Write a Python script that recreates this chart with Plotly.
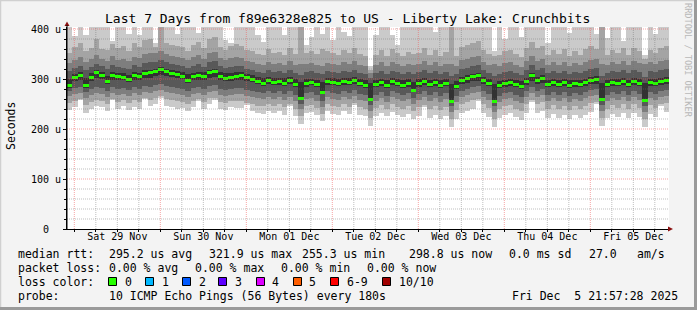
import plotly.graph_objects as go
from datetime import datetime, timedelta

# ---------------- data ----------------
END = datetime(2025, 12, 5, 21, 57, 28)
START = END - timedelta(days=7)
STEP_HOURS = 1.5

MEDIAN = [288,304,308,288,304,314,308,296,308,306,304,300,308,306,312,314,
          316,320,316,312,310,306,298,306,308,306,314,316,306,302,304,306,
          308,304,300,296,292,298,294,296,292,298,290,262,292,294,290,274,
          296,294,292,296,294,298,292,288,260,290,294,288,296,292,288,292,
          278,292,296,290,294,288,292,256,286,298,302,306,308,298,292,256,
          288,292,294,290,286,296,308,298,302,290,294,290,294,288,292,290,
          294,298,300,260,290,294,292,296,290,296,292,258,294,292,296,298]
# distance of ping 5 below / ping 6 above the median
D5 = [6,8,10,6,8,12,8,6,10,8,6,6,10,8,10,12,
      10,12,10,8,8,6,6,8,10,8,12,12,8,6,8,8,
      10,8,6,6,6,8,6,8,6,8,6,2,8,6,6,2,
      8,6,6,8,6,8,6,6,2,6,8,6,8,6,6,8,
      2,8,8,6,8,6,6,2,6,8,10,10,12,8,6,2,
      6,8,8,6,6,8,12,8,10,6,8,6,8,6,8,6,
      8,8,10,2,6,8,6,8,6,8,6,2,8,6,8,8]
D6 = [12,6,6,14,8,4,6,10,6,6,8,8,6,6,6,4,
      4,4,4,6,6,8,12,6,6,8,4,4,8,10,8,8,
      6,6,8,8,10,6,8,6,10,6,10,32,8,6,8,20,
      6,8,8,6,8,6,8,10,32,8,6,10,6,8,10,8,
      16,8,6,8,6,10,8,34,10,6,6,4,4,6,8,34,
      8,6,6,8,10,6,4,6,6,8,6,8,6,10,6,8,
      6,6,6,32,8,6,8,6,8,6,8,34,6,8,6,6]
P1 = [238,244,258,232,240,246,244,236,258,240,246,238,244,240,260,246,
      250,262,246,244,240,242,236,244,256,240,250,258,240,238,244,242,
      242,248,236,232,230,236,232,236,228,246,226,210,232,234,228,216,
      236,230,228,236,230,248,228,226,206,226,232,226,234,228,224,230,
      220,226,244,222,228,220,226,204,220,232,236,240,256,232,224,204,
      222,228,232,224,218,232,254,232,236,222,230,222,228,220,228,222,
      228,234,250,206,222,230,224,232,222,232,224,204,230,224,246,234]
P2 = [252,256,260,248,254,258,256,250,260,254,258,252,258,254,262,258,
      262,266,260,258,256,254,250,256,260,254,262,262,254,252,256,256,
      256,252,250,246,246,250,246,250,244,250,240,226,246,248,242,230,
      250,246,244,250,244,252,244,240,222,242,248,240,250,244,240,246,
      236,244,248,240,246,238,244,220,238,250,254,258,260,250,242,220,
      240,246,248,240,236,250,258,250,254,240,248,240,246,238,246,240,
      246,252,254,222,240,248,242,250,240,250,242,220,248,242,250,252]
P3 = [266,270,272,262,268,272,270,264,272,268,270,266,272,268,274,272,
      276,278,274,272,270,268,264,270,272,268,274,276,268,266,268,270,
      270,266,264,262,260,264,260,264,258,264,256,240,260,262,256,244,
      264,260,258,264,260,266,258,256,236,256,262,254,264,260,256,260,
      250,258,264,256,262,254,260,234,254,264,268,272,274,264,258,234,
      254,260,262,256,252,264,272,264,268,256,262,256,262,254,260,256,
      262,266,268,236,256,262,258,264,256,264,258,234,262,258,264,266]
P4 = [276,282,284,274,280,284,282,276,284,280,282,278,284,280,286,284,
      288,290,286,284,282,280,276,282,284,280,286,288,280,278,280,282,
      282,278,276,274,272,276,272,276,270,276,268,250,272,274,268,256,
      276,272,270,276,272,278,270,268,248,268,274,266,276,272,268,272,
      262,270,276,268,274,266,272,246,266,276,280,284,286,276,270,246,
      266,272,274,268,264,276,284,276,280,268,274,268,274,266,272,268,
      274,278,280,248,268,274,270,276,268,276,270,246,274,270,276,278]
P7 = [316,322,326,318,324,330,326,320,328,324,322,320,328,324,332,334,
      334,338,334,330,328,326,322,326,330,324,334,336,326,322,324,326,
      326,320,318,314,312,318,314,316,312,318,312,308,314,316,312,310,
      316,314,312,316,314,318,312,310,302,312,316,310,316,314,310,314,
      310,314,318,312,316,310,314,306,310,320,322,326,328,318,312,306,
      310,314,316,312,308,318,328,318,322,312,316,312,316,310,314,312,
      316,320,322,306,312,316,314,318,312,318,314,304,316,314,318,320]
P8 = [332,338,344,334,340,348,340,336,346,338,340,336,344,342,350,352,
      352,356,350,346,344,342,338,344,348,340,352,354,342,338,342,344,
      342,336,334,330,328,334,330,332,328,336,328,330,330,332,328,326,
      332,330,328,334,330,336,328,326,312,328,334,326,334,330,326,330,
      328,330,336,328,334,326,330,330,326,338,340,344,346,334,328,330,
      326,332,334,328,324,336,346,336,340,328,334,328,334,326,332,328,
      334,338,340,330,328,334,330,336,328,336,332,330,334,330,336,338]
P9 = [352,364,372,356,362,380,360,358,370,362,366,356,372,364,378,380,
      364,420,372,368,366,364,356,368,374,362,380,384,364,358,366,370,
      366,358,356,350,348,360,352,354,348,362,350,420,352,356,350,360,
      356,352,348,358,352,362,350,346,318,348,358,346,360,352,346,354,
      350,352,362,348,358,346,354,420,346,364,368,372,376,358,350,346,
      348,356,358,350,344,362,374,362,366,348,358,350,360,346,356,348,
      360,366,360,420,348,358,352,362,348,362,356,340,358,352,362,366]
P10 = [430,386,430,388,430,430,430,430,376,430,430,390,430,388,430,430,
       372,430,430,430,390,430,430,430,392,430,430,430,430,378,372,430,
       430,430,430,388,374,430,430,430,388,430,430,430,368,384,430,390,
       430,378,430,394,386,430,430,430,326,388,430,430,388,368,430,430,
       430,430,430,430,394,430,430,430,430,430,430,430,430,430,430,356,
       430,380,430,430,384,430,430,430,430,372,430,430,430,392,430,430,
       430,430,390,430,382,430,430,376,430,430,430,348,430,390,430,430]

DAY_LABELS = ["Sat 29 Nov", "Sun 30 Nov", "Mon 01 Dec", "Tue 02 Dec",
              "Wed 03 Dec", "Thu 04 Dec", "Fri 05 Dec"]
DAY_NOONS = ["2025-11-29 12:00", "2025-11-30 12:00", "2025-12-01 12:00",
             "2025-12-02 12:00", "2025-12-03 12:00", "2025-12-04 12:00",
             "2025-12-05 12:00"]
Y_TICKS = [0, 100, 200, 300, 400]
Y_TICK_TEXT = ["\u00a0\u00a00\u00a0\u00a0", "100 u", "200 u", "300 u", "400 u"]

LOSS_LABELS = ["0", "1", "2", "3", "4", "5", "6-9", "10/10"]
LOSS_COLORS = ["#26ff00", "#00b8ff", "#0059ff", "#5e00ff", "#dd00ff",
               "#ff5e00", "#ff0000", "#a10000"]

TITLE = "Last 7 Days from f89e6328e825 to US - Liberty Lake: Crunchbits"

# ---------------- figure ----------------
W, H = 697, 310
L, R, T, B = 67, 669, 27, 229   # plot area in pixels
MONO = "DejaVu Sans Mono"


def px(x):
    return (x - L) / (R - L)


def py(y):
    return (B - y) / (B - T)


N = len(MEDIAN)
times = [START + timedelta(hours=STEP_HOURS * (k + 0.5)) for k in range(N)]
bar_w = STEP_HOURS * 3600 * 1000
P5 = [m - d for m, d in zip(MEDIAN, D5)]
P6 = [m + d for m, d in zip(MEDIAN, D6)]

fig = go.Figure()
layers = [(P1, P10, "#cacaca"), (P2, P9, "#a4a4a4"), (P3, P8, "#7e7e7e"),
          (P4, P7, "#585858"), (P5, P6, "#323232")]
for lo, hi, col in layers:
    fig.add_bar(x=times, base=lo, y=[h - l for l, h in zip(lo, hi)],
                width=bar_w, marker=dict(color=col, line=dict(width=0)),
                hoverinfo="skip", showlegend=False)
MED_H = 6
fig.add_bar(x=times, base=[m - MED_H / 2 for m in MEDIAN], y=[MED_H] * N,
            width=bar_w, marker=dict(color=LOSS_COLORS[0], line=dict(width=0)),
            hoverinfo="skip", showlegend=False)
fig.add_scatter(x=[START, END], y=[0, 0], xaxis="x2", mode="markers",
                marker=dict(opacity=0), hoverinfo="skip", showlegend=False)

shapes = []
# grid (drawn above the smoke as rrdtool does)
t = datetime(START.year, START.month, START.day) + timedelta(days=1)
while t < END:
    major = t.hour == 0
    shapes.append(dict(type="line", xref="x", yref="paper", x0=t, x1=t, y0=0, y1=1,
                       layer="above",
                       line=dict(color="rgba(240,90,90,0.55)" if major else "rgba(110,110,110,0.45)",
                                 width=1, dash="1px,1px")))
    t += timedelta(hours=6)
for v in range(20, 401, 20):
    major = v % 100 == 0
    shapes.append(dict(type="line", xref="paper", yref="y", x0=0, x1=1, y0=v, y1=v,
                       layer="above",
                       line=dict(color="rgba(240,90,90,0.55)" if major else "rgba(110,110,110,0.45)",
                                 width=1, dash="1px,1px")))

# frame of the image
shapes.append(dict(type="line", xref="paper", yref="paper", x0=px(0), x1=px(W), y0=py(0.5), y1=py(0.5),
                   line=dict(color="#d0d0d0", width=1.5)))
shapes.append(dict(type="line", xref="paper", yref="paper", x0=px(0.5), x1=px(0.5), y0=py(0), y1=py(H),
                   line=dict(color="#d0d0d0", width=1.5)))
shapes.append(dict(type="line", xref="paper", yref="paper", x0=px(W - 1.5), x1=px(W - 1.5), y0=py(0), y1=py(H),
                   line=dict(color="#9a9a9a", width=3)))
shapes.append(dict(type="line", xref="paper", yref="paper", x0=px(0), x1=px(W), y0=py(H - 1.5), y1=py(H - 1.5),
                   line=dict(color="#9a9a9a", width=3)))

# axis arrows
shapes.append(dict(type="path", xref="paper", yref="paper", layer="above",
                   path="M {} {} L {} {} L {} {} Z".format(px(64.5), py(26), px(69.5), py(26), px(67), py(21.5)),
                   fillcolor="#8b1010", line=dict(width=0)))
shapes.append(dict(type="path", xref="paper", yref="paper", layer="above",
                   path="M {} {} L {} {} L {} {} Z".format(px(668), py(226.5), px(668), py(231.5), px(673), py(229)),
                   fillcolor="#8b1010", line=dict(width=0)))
shapes.append(dict(type="line", xref="paper", yref="paper", x0=0, x1=0, y0=py(B), y1=py(25),
                   layer="above", line=dict(color="black", width=1)))

annotations = []


def text(s, x, y, size=11.5, anchor="left", color="black", angle=0):
    annotations.append(dict(text=s, x=px(x), y=py(y), xref="paper", yref="paper",
                            xanchor=anchor, yanchor="middle", showarrow=False,
                            textangle=angle,
                            font=dict(family=MONO, size=size, color=color)))


text(TITLE, 347.5, 19, size=13, anchor="center")
text("Seconds", 11, 126, size=11.5, anchor="center", angle=-90)
text("RRDTOOL / TOBI OETIKER", 688, 60, size=8.6, anchor="center", color="#b8b8b8", angle=90)

# legend rows
text("median rtt:", 16, 254)
text("295.2 us avg", 107, 254)
text("321.9 us max", 207, 254)
text("255.3 us min", 300, 254)
text("298.8 us now", 407, 254)
text("0.0 ms sd", 507, 254)
text("27.0", 587, 254)
text("am/s", 635, 254)

text("packet loss:", 16, 268)
text("0.00 % avg", 107, 268)
text("0.00 % max", 193, 268)
text("0.00 % min", 279, 268)
text("0.00 % now", 365, 268)

text("loss color:", 16, 282)
SQ_X = [108, 145, 182, 218, 256, 293, 330, 382]
LB_X = [123, 160, 197, 233, 270, 307, 345, 397]
for lab, col, sx, lx in zip(LOSS_LABELS, LOSS_COLORS, SQ_X, LB_X):
    shapes.append(dict(type="rect", xref="paper", yref="paper",
                       x0=px(sx + 0.5), x1=px(sx + 8.5), y0=py(277.5), y1=py(285.5),
                       fillcolor=col, line=dict(color="black", width=1)))
    text(lab, lx, 282)

text("probe:", 16, 296)
text("10 ICMP Echo Pings (56 Bytes) every 180s", 107, 296)
text("Fri Dec\u00a0\u00a05 21:57:28 2025", 680, 296, anchor="right")

fig.update_layout(
    width=W, height=H, autosize=False,
    margin=dict(l=L, r=W - R, t=T, b=H - B, pad=0),
    paper_bgcolor="#f3f3f3", plot_bgcolor="white",
    barmode="overlay", bargap=0,
    showlegend=False,
    shapes=shapes, annotations=annotations,
    font=dict(family=MONO, size=10, color="black"),
    xaxis=dict(type="date", range=[START, END], showgrid=False, zeroline=False,
               showline=True, linecolor="black", linewidth=1,
               ticks="outside", ticklen=2, tickcolor="black",
               tick0="2025-11-29 00:00", dtick=6 * 3600 * 1000,
               showticklabels=False, fixedrange=True),
    xaxis2=dict(type="date", overlaying="x", side="bottom", anchor="y",
                range=[START, END], showgrid=False, zeroline=False, showline=False,
                tickmode="array", tickvals=DAY_NOONS, ticktext=DAY_LABELS,
                ticks="", tickfont=dict(family=MONO, size=10, color="black")),
    yaxis=dict(range=[0, 404], showgrid=False, zeroline=False,
               showline=True, linecolor="black", linewidth=1,
               tickmode="array", tickvals=Y_TICKS, ticktext=Y_TICK_TEXT,
               ticks="outside", ticklen=3, tickcolor="black",
               tickfont=dict(family=MONO, size=10, color="black"),
               minor=dict(dtick=20, ticks="outside", ticklen=2, tickcolor="black",
                          showgrid=False)),
)

fig.write_html("out.html")
